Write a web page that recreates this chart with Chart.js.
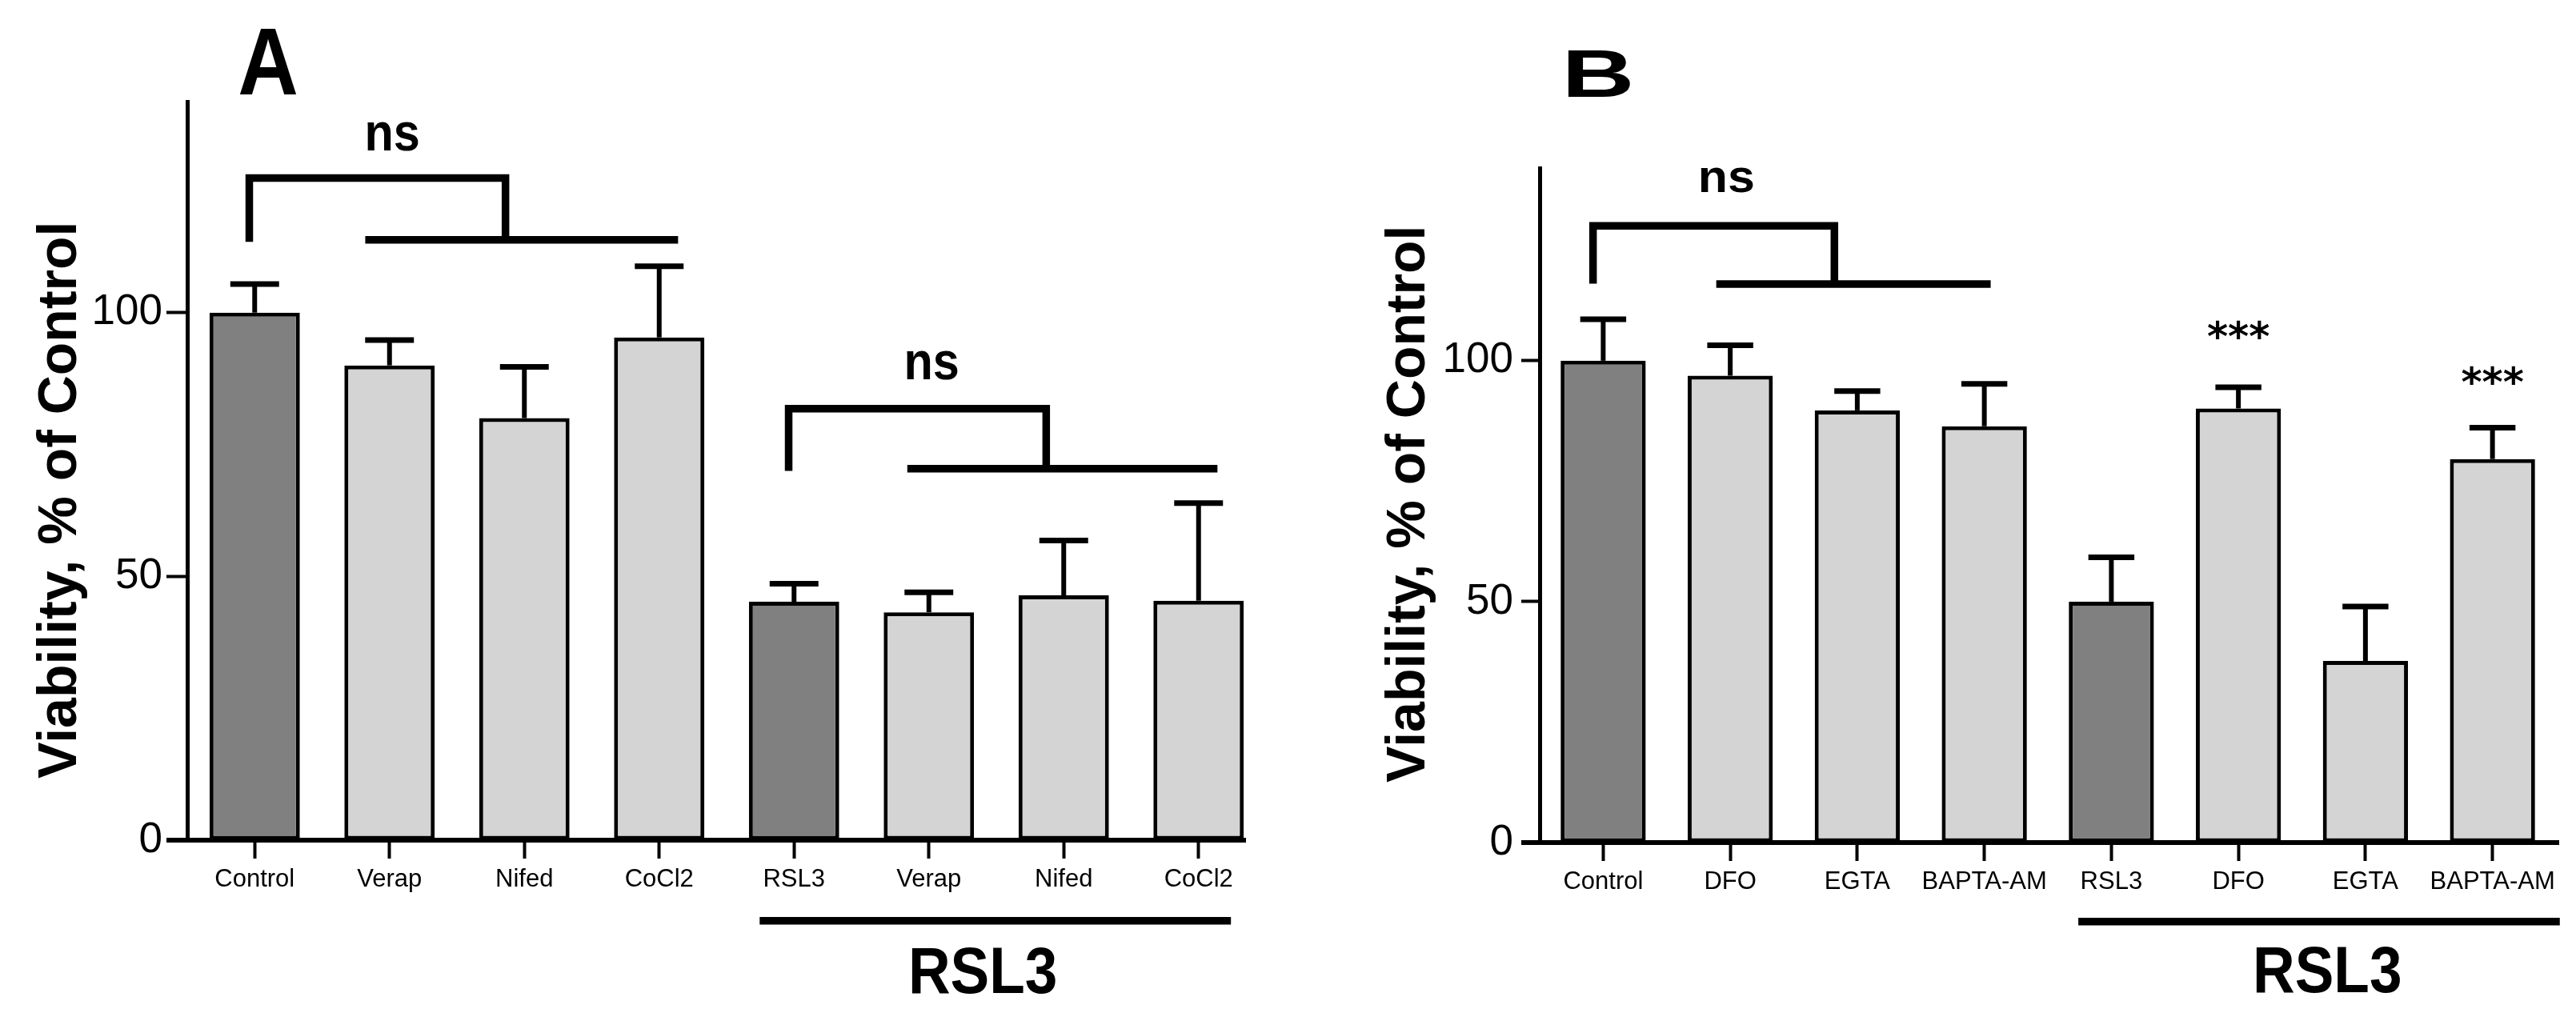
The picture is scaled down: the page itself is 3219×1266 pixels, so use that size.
<!DOCTYPE html>
<html>
<head>
<meta charset="utf-8">
<script src="https://cdn.jsdelivr.net/npm/chart.js@4.4.1/dist/chart.umd.min.js"></script>
<style>
html,body{margin:0;padding:0;background:#fff;width:3219px;height:1266px;overflow:hidden}
#wrapA{position:absolute;left:0;top:0;width:1557px;height:1266px;overflow:hidden}
#wrapB{position:absolute;left:1620px;top:0;width:1599px;height:1266px;overflow:hidden}
canvas{display:block}
</style>
</head>
<body>
<div id="wrapA"><canvas id="chartA" width="1600" height="1266"></canvas></div>
<div id="wrapB"><canvas id="chartB" width="1599" height="1266"></canvas></div>
<script>
// ---------- DATA ----------
const categoriesA = ['Control', 'Verap', 'Nifed', 'CoCl2', 'RSL3', 'Verap', 'Nifed', 'CoCl2'];
const viabilityA  = [100, 90, 80, 95.3, 45.2, 43.2, 46.4, 45.4];
const semA        = [5.4, 4.8, 9.7, 13.5, 3.4, 3.8, 10.4, 18.5];

const categoriesB = ['Control', 'DFO', 'EGTA', 'BAPTA-AM', 'RSL3', 'DFO', 'EGTA', 'BAPTA-AM'];
const viabilityB  = [100, 96.9, 89.7, 86.4, 50.0, 90.1, 37.7, 79.6];
const semB        = [8.6, 6.3, 4.0, 8.8, 9.2, 4.4, 11.3, 6.5];

const referenceGroups = ['Control', 'RSL3'];   // dark bars
const yTickValues = [0, 50, 100];
const yAxisMax = 140;
const yAxisTitle = 'Viability, % of Control';
const groupLabel = 'RSL3';

// ---------- STYLE ----------
const DARK = '#808080', LIGHT = '#d4d4d4', INK = '#000';
const FONT = '"Liberation Sans", Arial, sans-serif';

// annotation layouts (in category-index / data units)
const annotA = {
  titleValue: 64.5, titleOffset: 139,
  letter: {text: 'A', x: 0.1, y: 141.4, font: 'bold 119px ' + FONT, sx: 0.88},
  lines: [
    [[-0.04, 113.4], [-0.04, 125.5], [1.86, 125.5], [1.86, 113.8]],
    [[0.82, 113.8], [3.14, 113.8]],
    [[3.96, 70.0], [3.96, 81.8], [5.87, 81.8], [5.87, 70.4]],
    [[4.84, 70.4], [7.14, 70.4]],
    [[3.745, -15.3], [7.24, -15.3]]
  ],
  texts: [
    {text: 'ns', x: 1.02, y: 130.8, font: 'bold 66px ' + FONT, sx: 0.9},
    {text: 'ns', x: 5.02, y: 87.3, font: 'bold 66px ' + FONT, sx: 0.9},
    {text: groupLabel, x: 5.40, y: -29.0, font: 'bold 81px ' + FONT, sx: 0.9}
  ]
};
const annotB = {
  titleValue: 70.3, titleOffset: 144,
  letter: {text: 'B', x: -0.04, y: 154.8, font: 'bold 84px ' + FONT, sx: 1.5},
  lines: [
    [[-0.08, 116.0], [-0.08, 128.0], [1.82, 128.0], [1.82, 115.9]],
    [[0.89, 115.9], [3.05, 115.9]],
    [[3.74, -16.4], [7.53, -16.4]]
  ],
  texts: [
    {text: 'ns', x: 0.97, y: 135.1, font: 'bold 58px ' + FONT, sx: 1.05},
    {text: '***', x: 5.0, y: 102.2, font: 'bold 50px "DejaVu Sans"', sx: 1},
    {text: '***', x: 7.0, y: 92.7, font: 'bold 50px "DejaVu Sans"', sx: 1},
    {text: groupLabel, x: 5.70, y: -31.1, font: 'bold 81px ' + FONT, sx: 0.9}
  ]
};

function drawText(ctx, t, x, y) {
  ctx.save();
  ctx.translate(x, y);
  ctx.scale(t.sx || 1, 1);
  ctx.font = t.font;
  ctx.fillStyle = INK;
  ctx.textAlign = 'center';
  ctx.textBaseline = 'alphabetic';
  ctx.fillText(t.text, 0, 0);
  ctx.restore();
}

const panelPlugin = {
  id: 'panel',
  afterDatasetsDraw(chart, args, opts) {
    const ctx = chart.ctx, xs = chart.scales.x, ys = chart.scales.y, ca = chart.chartArea;
    const X = v => xs.getPixelForValue(v), Y = v => ys.getPixelForValue(v);
    ctx.save();
    ctx.strokeStyle = INK;
    ctx.lineCap = 'butt';
    ctx.lineJoin = 'miter';
    // error bars (upper only)
    const ds = chart.data.datasets[0];
    chart.getDatasetMeta(0).data.forEach((bar, i) => {
      const x = bar.x, y0 = Y(ds.data[i]), y1 = Y(ds.data[i] + ds.errors[i]);
      const capW = bar.width * 0.54;
      ctx.lineWidth = 6;
      ctx.beginPath(); ctx.moveTo(x, y0); ctx.lineTo(x, y1); ctx.stroke();
      ctx.lineWidth = 7;
      ctx.beginPath(); ctx.moveTo(x - capW / 2, y1); ctx.lineTo(x + capW / 2, y1); ctx.stroke();
    });
    // x axis line (extends to the y tick length, Prism style)
    const tl = ys.options.grid.tickLength;
    ctx.lineWidth = 6;
    ctx.beginPath(); ctx.moveTo(ca.left - tl, Y(0)); ctx.lineTo(ca.right + 4, Y(0)); ctx.stroke();
    // brackets / underline
    ctx.lineWidth = 9.5;
    opts.lines.forEach(pl => {
      ctx.beginPath();
      pl.forEach((p, k) => { const px = X(p[0]), py = Y(p[1]); k ? ctx.lineTo(px, py) : ctx.moveTo(px, py); });
      ctx.stroke();
    });
    // texts
    opts.texts.forEach(t => drawText(ctx, t, X(t.x), Y(t.y)));
    drawText(ctx, opts.letter, X(opts.letter.x), Y(opts.letter.y));
    // y title
    ctx.save();
    ctx.translate(ca.left - opts.titleOffset, Y(opts.titleValue));
    ctx.rotate(-Math.PI / 2);
    ctx.font = 'bold 68px ' + FONT;
    ctx.fillStyle = INK;
    ctx.textAlign = 'center';
    ctx.textBaseline = 'alphabetic';
    ctx.fillText(yAxisTitle, 0, 0);
    ctx.restore();
    ctx.restore();
  }
};

function makeChart(id, cats, vals, errs, annot, geom) {
  return new Chart(document.getElementById(id), {
    type: 'bar',
    data: {
      labels: cats,
      datasets: [{
        data: vals,
        errors: errs,
        backgroundColor: cats.map(c => referenceGroups.includes(c) ? DARK : LIGHT),
        borderColor: INK,
        borderWidth: 5,
        borderSkipped: false,
        barPercentage: 0.67,
        categoryPercentage: 1
      }]
    },
    options: {
      responsive: false,
      animation: false,
      devicePixelRatio: 1,
      layout: {padding: {top: geom.top, right: geom.right, left: 0, bottom: 0}},
      plugins: {legend: {display: false}, tooltip: {enabled: false}, panel: annot},
      scales: {
        x: {
          type: 'category',
          offset: true,
          grid: {display: true, drawOnChartArea: false, drawTicks: true, tickLength: 23, tickWidth: 4, tickColor: INK, offset: false},
          border: {display: false},
          ticks: {color: INK, font: {family: FONT, size: 31}, padding: 8, maxRotation: 0, autoSkip: false},
          afterFit: s => { s.height = geom.xHeight; }
        },
        y: {
          min: 0,
          max: yAxisMax,
          afterBuildTicks: s => { s.ticks = yTickValues.map(v => ({value: v})); },
          grid: {drawOnChartArea: false, drawTicks: true, tickLength: geom.tick, tickWidth: 4, tickColor: INK},
          border: {display: true, width: 5, color: INK},
          ticks: {color: INK, font: {family: FONT, size: 53}, padding: geom.pad},
          afterFit: s => { s.width = geom.yWidth; }
        }
      }
    },
    plugins: [panelPlugin]
  });
}

makeChart('chartA', categoriesA, viabilityA, semA, annotA, {top: 127, right: 18, xHeight: 216, yWidth: 234, tick: 26, pad: 5});
makeChart('chartB', categoriesB, viabilityB, semB, annotB, {top: 210, right: 25, xHeight: 213, yWidth: 304, tick: 23, pad: 10});
</script>
</body>
</html>
